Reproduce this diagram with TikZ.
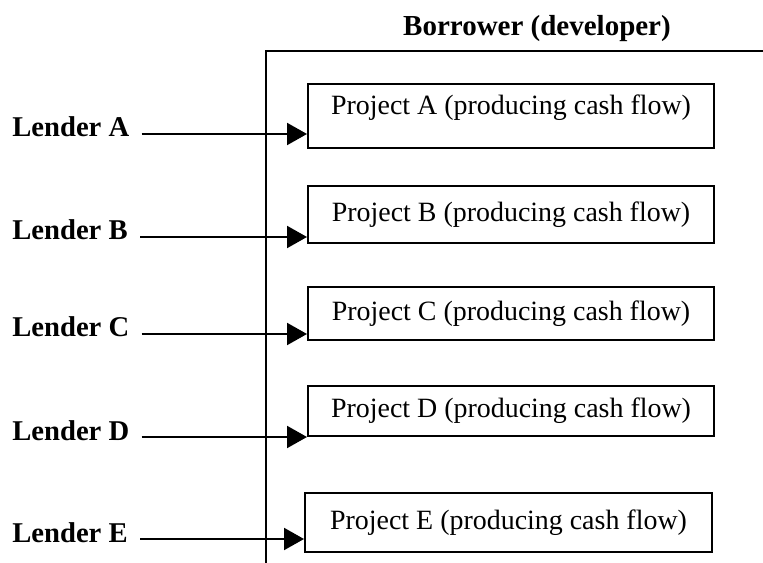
\documentclass[tikz,border=0pt]{standalone}
\usepackage{fontspec}
\setmainfont{Liberation Serif}
\usetikzlibrary{arrows.meta,positioning}
\tikzset{
    lendername/.style={font=\fontsize{16.3}{19}\selectfont\bfseries, inner sep=0pt, anchor=base west},
    borrowername/.style={font=\fontsize{16.5}{19}\selectfont\bfseries, inner sep=0pt, anchor=base},
    projbox/.style={draw, line width=1.2pt, font=\fontsize{15.9}{19}\selectfont, minimum width=8.12cm, inner sep=0pt, anchor=north west},
    loanarrow/.style={-{Triangle[length=0.4cm,width=0.44cm]}, line width=1.2pt},
    borrowerframe/.style={line width=1.2pt}
}

\begin{document}
\begin{tikzpicture}[x=0.02cm, y=-0.02cm]
    \useasboundingbox (0,0) rectangle (763,563);

    % borrower side
    \node[borrowername] (borrower) at (537,36) {Borrower (developer)};
    \coordinate (corner) at (266,51);
    \draw[borrowerframe] (763,51) -- (corner) -- (266,563);

    \node[projbox, minimum height=1.28cm, text depth=0.45cm] (projA) at (307,83) {Project A (producing cash flow)};
    \node[projbox, minimum height=1.14cm] (projB) at (307,185) {Project B (producing cash flow)};
    \node[projbox, minimum height=1.06cm] (projC) at (307,286) {Project C (producing cash flow)};
    \node[projbox, minimum height=1.0cm] (projD) at (307,385) {Project D (producing cash flow)};
    \node[projbox, minimum height=1.18cm, minimum width=8.14cm] (projE) at (304,492) {Project E (producing cash flow)};

    % lenders
    \node[lendername] (lenderA) at (12,137) {Lender A};
    \node[lendername] (lenderB) at (12,240) {Lender B};
    \node[lendername] (lenderC) at (12,337) {Lender C};
    \node[lendername] (lenderD) at (12,440) {Lender D};
    \node[lendername] (lenderE) at (12,542) {Lender E};

    \draw[loanarrow] ([shift={(0.24cm,0.06cm)}]lenderA.base east) coordinate (la) -- (la -| projA.west);
    \draw[loanarrow] ([shift={(0.24cm,0.06cm)}]lenderB.base east) coordinate (lb) -- (lb -| projB.west);
    \draw[loanarrow] ([shift={(0.24cm,0.06cm)}]lenderC.base east) coordinate (lc) -- (lc -| projC.west);
    \draw[loanarrow] ([shift={(0.24cm,0.06cm)}]lenderD.base east) coordinate (ld) -- (ld -| projD.west);
    \draw[loanarrow] ([shift={(0.24cm,0.06cm)}]lenderE.base east) coordinate (le) -- (le -| projE.west);
\end{tikzpicture}
\end{document}
